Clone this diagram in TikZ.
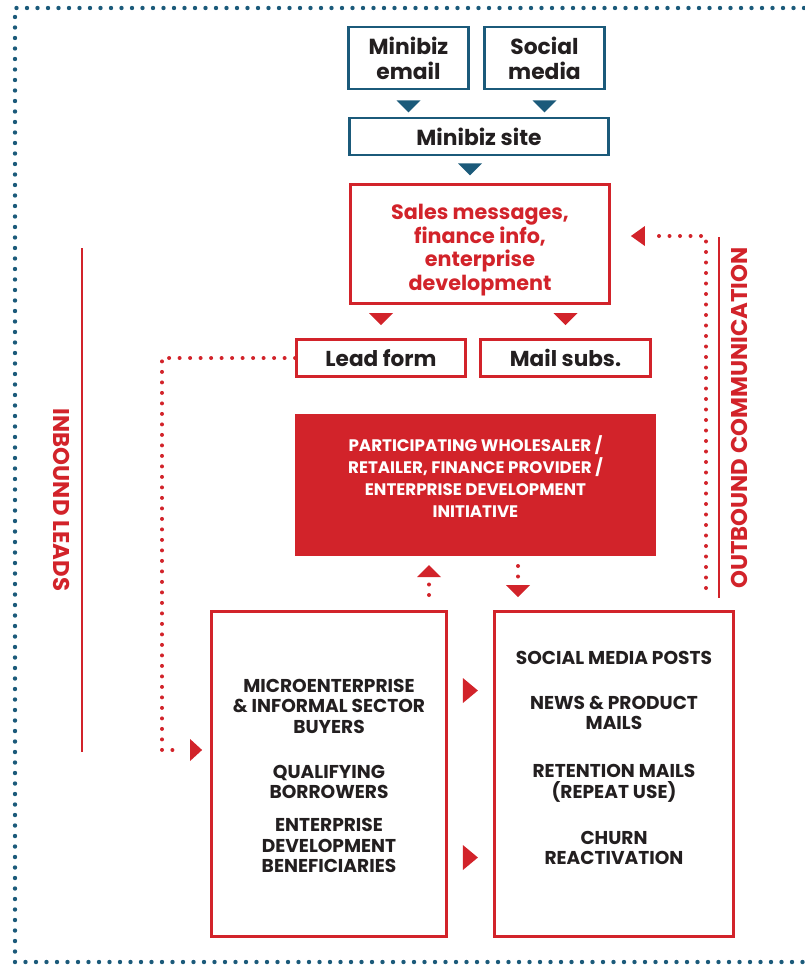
\documentclass[tikz,border=0pt]{standalone}
\usepackage{fontspec}
\setmainfont{Poppins}
\usetikzlibrary{calc}
\definecolor{bl}{HTML}{1B5A7A}
\definecolor{rd}{HTML}{D2232A}
\definecolor{ink}{HTML}{231F20}
\begin{document}
\begin{tikzpicture}[x=1pt,y=-1pt,
  bluebox/.style={draw=bl,line width=2.8pt,inner sep=0pt,text=ink,align=center,font=\bfseries\fontsize{21.8}{25}\selectfont},
  redbox/.style={draw=rd,line width=2.8pt,inner sep=0pt,text=ink,align=center,font=\bfseries\fontsize{21.6}{25}\selectfont},
  bigbox/.style={draw=rd,line width=2.8pt,inner sep=0pt},
  captxt/.style={text=ink,align=center,font=\bfseries\fontsize{18.6}{20.5}\selectfont},
  sidetxt/.style={text=rd,font=\bfseries\fontsize{22.8}{24}\selectfont},
  reddots/.style={draw=rd,line width=4pt,line cap=round,dash pattern=on 0pt off 10.5pt},
  bluedots/.style={draw=bl,line width=4.4pt,line cap=round,dash pattern=on 0pt off 10.5pt},
  sideline/.style={draw=rd,line width=2.4pt}
]
\useasboundingbox (0,0) rectangle (804,967);
% frame
\coordinate (ftr) at (804,8);
\coordinate (ftl) at (15,8);
\coordinate (fbl) at (15,962);
\coordinate (fbr) at (804,962);
\draw[bluedots] (ftr) -- (ftl) -- (fbl) -- (fbr);

% top boxes
\node[bluebox,minimum width=120pt,minimum height=62pt] (email) at (408.5,58) {Minibiz\\email};
\node[bluebox,minimum width=120pt,minimum height=62pt] (social) at (544.5,58) {Social\\media};
\node[bluebox,minimum width=259pt,minimum height=37pt] (site) at (479,136.5) {Minibiz site};
\node[bigbox,minimum width=259pt,minimum height=119pt] (sales) at (480,244) {};
\node[text=rd,align=center,font=\bfseries\fontsize{20.7}{23.5}\selectfont] (salestxt) at (480,250) {Sales messages,\\finance info,\\enterprise\\development};
\node[redbox,minimum width=169pt,minimum height=37pt] (lead) at (381,358) {Lead form};
\node[redbox,minimum width=170pt,minimum height=37pt] (mail) at (565.5,358) {Mail subs.};
\node[fill=rd,minimum width=361pt,minimum height=142pt,inner sep=0pt] (part) at (475.5,485) {};
\node[text=white,align=center,font=\bfseries\fontsize{16.7}{22}\selectfont] (parttxt) at (475.5,477) {PARTICIPATING WHOLESALER /\\RETAILER, FINANCE PROVIDER /\\ENTERPRISE DEVELOPMENT\\INITIATIVE};
\node[bigbox,minimum width=235pt,minimum height=325pt] (buyers) at (329,774) {};
\node[bigbox,minimum width=239pt,minimum height=325pt] (comms) at (614,774) {};
\node[captxt] (buyerstxt) at (329,776) {MICROENTERPRISE\\\& INFORMAL SECTOR\\BUYERS\\[24.5pt]QUALIFYING\\BORROWERS\\[12.5pt]ENTERPRISE\\DEVELOPMENT\\BENEFICIARIES};
\node[captxt] (commstxt) at (614,758) {SOCIAL MEDIA POSTS\\[24.5pt]NEWS \& PRODUCT\\MAILS\\[27.5pt]RETENTION MAILS\\(REPEAT USE)\\[25.5pt]CHURN\\REACTIVATION};

% down triangles
\fill[bl] ($(email.south)+(-12,10)$) -- ++(24,0) -- ++(-12,12) -- cycle;
\fill[bl] ($(social.south)+(-12,10)$) -- ++(24,0) -- ++(-12,12) -- cycle;
\fill[bl] ($(site.south)+(-21,7)$) -- ++(24,0) -- ++(-12,12) -- cycle;
\fill[rd] ($(lead.north)+(-12,-25)$) -- ++(24,0) -- ++(-12,12) -- cycle;
\fill[rd] ($(mail.north)+(-12,-25)$) -- ++(24,0) -- ++(-12,12) -- cycle;

% right triangles between boxes
\fill[rd] ($(buyers.east)+(15,-96)$) -- ++(0,25) -- ++(15,-12.5) -- cycle;
\fill[rd] ($(buyers.east)+(15,71)$) -- ++(0,25) -- ++(15,-12.5) -- cycle;

% inbound leads path
\coordinate (lt1) at (162,358);
\coordinate (lt2) at (162,750);
\coordinate (lt3) at (181,750);
\draw[reddots] (lead.west) -- (lt1) -- (lt2) -- (lt3);
\fill[rd] ($(buyers.west)+(-20,-35)$) -- ++(0,22) -- ++(12,-11) -- cycle;

% up / down dotted arrows
\coordinate (upbot) at (429,595);
\coordinate (uptop) at (429,577);
\draw[reddots] (upbot) -- (uptop);
\fill[rd] (417,577) -- (441,577) -- (429,565) -- cycle;
\coordinate (dntop) at (518,566);
\coordinate (dnbot) at (518,583);
\draw[reddots] (dntop) -- (dnbot);
\fill[rd] (506,585) -- (530,585) -- (518,597) -- cycle;

% outbound path
\coordinate (ob1) at (706,588);
\coordinate (ob2) at (706,236);
\coordinate (ob3) at (650,236);
\draw[reddots] (ob1) -- (ob2) -- (ob3);
\fill[rd] ($(sales.east)+(20,-8)$) -- ++(14,-10) -- ++(0,20) -- cycle;

% side labels
\coordinate (il1) at (82,248);
\coordinate (il2) at (82,752);
\draw[sideline] (il1) -- (il2);
\node[sidetxt,rotate=-90] (inbound) at (62,500) {INBOUND LEADS};
\coordinate (ol1) at (719,237);
\coordinate (ol2) at (719,598);
\draw[sideline] (ol1) -- (ol2);
\node[sidetxt,rotate=90] (outbound) at (739,418) {OUTBOUND COMMUNICATION};
\end{tikzpicture}
\end{document}
